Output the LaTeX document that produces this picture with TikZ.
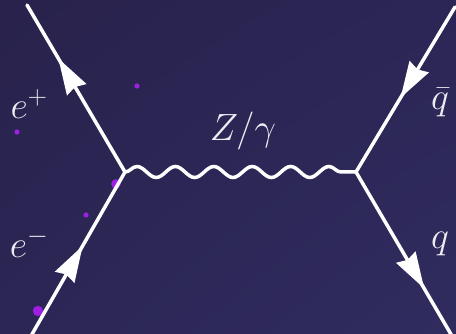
\RequirePackage{fix-cm}
\documentclass[tikz,border=0pt]{standalone}
\usepackage{tikz}
\usetikzlibrary{decorations.pathmorphing,decorations.markings,arrows.meta,shadings}
\definecolor{bgdark}{RGB}{40,34,76}
\definecolor{bgmid}{RGB}{43,38,85}
\definecolor{bglight}{RGB}{48,44,95}
\definecolor{dotviolet}{RGB}{158,30,228}
\definecolor{labelwhite}{RGB}{236,236,242}

\begin{document}
\begin{tikzpicture}[x=1pt,y=-1pt,
  fermion/.style={draw=white,line width=3.5pt,line cap=round,postaction={decorate},
    decoration={markings,mark=at position #1 with {\arrow{Stealth[length=36pt,width=22pt,inset=3pt]}}}},
  boson/.style={draw=white,line width=3.5pt,decorate,
    decoration={snake,segment length=38.4pt,amplitude=5.5pt}},
  blob/.style={fill=dotviolet},
  lbl/.style={text=labelwhite,inner sep=0pt,font=\fontsize{38}{44}\selectfont}]
  \useasboundingbox (0,0) rectangle (456,334);
  % background
  \shade[upper left=bgdark,upper right=bgmid,lower left=bgmid,lower right=bglight]
    (0,0) rectangle (456,334);
  % scattered dots
  \fill[blob] (137,86) circle (2.6);
  \fill[blob] (17,132) circle (2.6);
  \fill[blob] (116,184) circle (4.8);
  \fill[blob] (86,215) circle (2.6);
  \fill[blob] (38,311) circle (5.2);
  % vertices and external ends
  \coordinate (vl) at (125,172);
  \coordinate (vr) at (356,172);
  \coordinate (ep) at (27,5);
  \coordinate (em) at (31,336);
  \coordinate (qb) at (455,7);
  \coordinate (qq) at (452,336);
  % fermion lines
  \draw[fermion=0.68] (vl) -- (ep);
  \draw[fermion=0.55] (em) -- (vl);
  \draw[fermion=0.55] (qb) -- (vr);
  \draw[fermion=0.71] (vr) -- (qq);
  % propagator
  \draw[boson] (vl) -- (vr);
  % labels
  \node[lbl] (lep) at (29,104) {$e^+$};
  \node[lbl] (lem) at (29,243) {$e^-$};
  \node[lbl] (lz)  at (243,131) {$Z/\gamma$};
  \node[lbl] (lqb) at (440,103) {$\bar q$};
  \node[lbl] (lq)  at (440,244) {$q$};
\end{tikzpicture}
\end{document}
